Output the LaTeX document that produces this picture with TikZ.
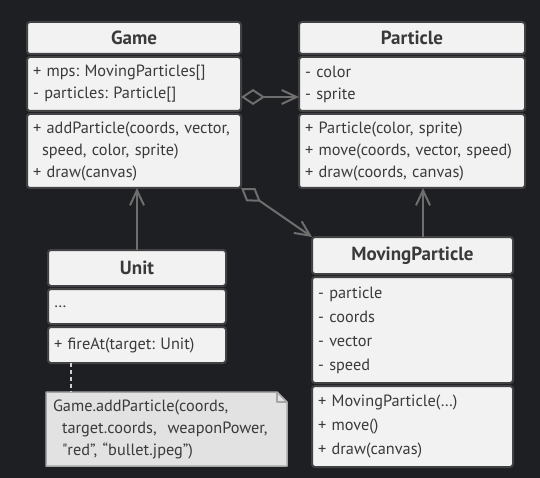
\documentclass[tikz,border=0pt]{standalone}
\usepackage{fontspec}
\setmainfont{PT Sans}
\usetikzlibrary{positioning,arrows.meta,backgrounds}
\frenchspacing
\definecolor{bgcol}{HTML}{1E1F22}
\definecolor{boxfill}{HTML}{F2F2F2}
\definecolor{boxline}{HTML}{424244}
\definecolor{txtcol}{HTML}{3A3A3A}
\definecolor{linecol}{HTML}{6E6E6E}
\definecolor{notefill}{HTML}{E2E2E2}
\definecolor{noteline}{HTML}{A6A6A6}
\definecolor{dotcol}{HTML}{D0D0D0}
\begin{document}
\begin{tikzpicture}[x=1pt, y=-1pt, font=\fontsize{16.3}{22}\selectfont,
  box/.style={draw=boxline, fill=boxfill, line width=2pt, rounded corners=3pt, outer sep=0pt, text=txtcol},
  hdr/.style={box, font=\fontsize{19}{22}\selectfont\bfseries, anchor=north west},
  sec/.style={box, align=left, inner xsep=6pt, inner ysep=0pt},
  conn/.style={draw=linecol, line width=2pt},
  barb/.style={-{Straight Barb[length=15pt,width=14pt]}},
  agg/.style={{Diamond[open,length=24pt,width=16pt]}-{Straight Barb[length=15pt,width=14pt]}}]
\begin{pgfonlayer}{background}
  \fill[bgcol] (0,0) rectangle (540,478);
\end{pgfonlayer}

% Game
\node[hdr, minimum width=214pt, minimum height=32pt] (gameH) at (27,22) {Game};
\node[sec, text width=202pt, minimum height=54pt, below=3pt of gameH] (gameA) {+ mps: MovingParticles[]\\- particles: Particle[]};
\node[sec, text width=202pt, minimum height=74pt, below=3pt of gameA] (gameM) {+ addParticle(coords, vector,\\\hspace*{9pt}speed, color, sprite)\\+ draw(canvas)};

% Particle
\node[hdr, minimum width=226pt, minimum height=32pt] (partH) at (299,22) {Particle};
\node[sec, text width=214pt, minimum height=54pt, below=3pt of partH] (partA) {- color\\- sprite};
\node[sec, text width=214pt, minimum height=74pt, below=3pt of partA] (partM) {+ Particle(color, sprite)\\+ move(coords, vector, speed)\\+ draw(coords, canvas)};

% Unit
\node[hdr, minimum width=178pt, minimum height=36pt] (unitH) at (48,250) {Unit};
\node[sec, text width=166pt, minimum height=35pt, below=3pt of unitH] (unitA) {…};
\node[sec, text width=166pt, minimum height=36pt, below=3pt of unitA] (unitM) {+ fireAt(target: Unit)};

% MovingParticle
\node[hdr, minimum width=201pt, minimum height=37pt] (mpH) at (312,237) {MovingParticle};
\node[sec, font=\fontsize{16.3}{24}\selectfont, text width=189pt, minimum height=106pt, below=3pt of mpH] (mpA) {- particle\\- coords\\- vector\\- speed};
\node[sec, font=\fontsize{16.3}{24}\selectfont, text width=189pt, minimum height=81pt, below=3pt of mpA] (mpM) {+ MovingParticle(…)\\+ move()\\+ draw(canvas)};

% note
\node[anchor=north west, align=left, text=txtcol, text width=227pt, minimum height=74pt, inner xsep=7pt, inner ysep=0pt, outer sep=0pt] (note) at (46,392)
  {Game.addParticle(coords,\\\hspace*{9pt}target.coords,\ \ weaponPower,\\\hspace*{9pt}{\addfontfeatures{Ligatures=TeXOff}"}red”, “bullet.jpeg”)};
\begin{pgfonlayer}{background}
  \draw[fill=notefill, draw=noteline, line width=1.5pt, line join=round]
    (note.north west) -- ([xshift=-10pt]note.north east) -- ([yshift=-10pt]note.north east)
    -- (note.south east) -- (note.south west) -- cycle;
  \draw[draw=noteline, line width=1.5pt, line join=round]
    ([xshift=-10pt]note.north east) -- ([xshift=-10pt,yshift=-10pt]note.north east) -- ([yshift=-10pt]note.north east);
\end{pgfonlayer}

% connectors
\draw[conn, agg] ([yshift=-13pt]gameA.east) -- ([yshift=-13pt]partA.west);
\draw[conn, agg] (gameM.south east) -- (mpH.north west);
\draw[conn, barb] (unitH.north) -- (unitH.north |- gameM.south);
\draw[conn, barb] ([xshift=10.5pt]mpH.north) -- ([xshift=10.5pt]mpH.north |- partM.south);
\draw[draw=dotcol, line width=2pt, dash pattern=on 4pt off 3pt] ([xshift=23pt]unitM.south west) -- ([xshift=23pt]unitM.south west |- note.north);
\end{tikzpicture}
\end{document}
